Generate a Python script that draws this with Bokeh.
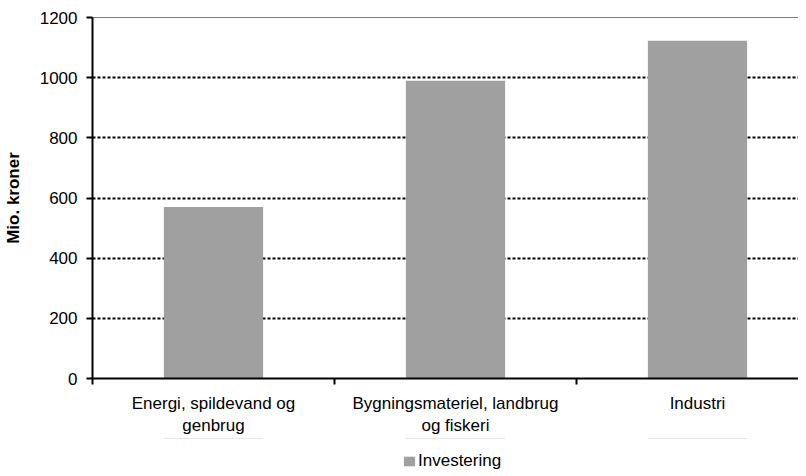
from bokeh.plotting import figure
from bokeh.layouts import column
from bokeh.models import Range1d, FixedTicker, ColumnDataSource, Legend, LegendItem, Span
from bokeh.embed import file_html
from bokeh.resources import INLINE

categories = ["Energi, spildevand og\ngenbrug", "Bygningsmateriel, landbrug\nog fiskeri", "Industri"]
investering = [570, 990, 1123]
series_name = "Investering"
y_ticks = [0, 200, 400, 600, 800, 1000, 1200]

FONT = "Liberation Sans"
BAR = "#A0A0A0"
xs = [i + 0.5 for i in range(len(categories))]
src = ColumnDataSource(dict(x=xs, top=investering))

p = figure(frame_width=706, frame_height=361, output_backend="svg", toolbar_location=None,
           x_range=Range1d(0, 706 / 242), y_range=Range1d(0, 1200),
           min_border_left=92, min_border_right=0, min_border_top=17, min_border_bottom=0)
p.outline_line_color = None
p.background_fill_color = "white"

r = p.vbar(x="x", top="top", width=0.41, source=src, fill_color=BAR, line_color=None)

# y axis
p.yaxis.ticker = FixedTicker(ticks=y_ticks, minor_ticks=[])
p.yaxis.axis_label = "Mio. kroner"
p.yaxis.axis_label_text_font = FONT
p.yaxis.axis_label_text_font_style = "bold"
p.yaxis.axis_label_text_font_size = "17px"
p.yaxis.axis_label_text_color = "black"
p.yaxis.axis_label_standoff = 14
p.yaxis.major_label_text_font = FONT
p.yaxis.major_label_text_font_size = "17px"
p.yaxis.major_label_text_color = "black"
p.yaxis.major_label_standoff = 9
p.yaxis.major_tick_out = 6
p.yaxis.major_tick_in = 0
p.yaxis.major_tick_line_width = 2
p.yaxis.axis_line_width = 2
p.yaxis.minor_tick_line_color = None

# x axis
p.xaxis.ticker = FixedTicker(ticks=xs, minor_ticks=[0, 1, 2])
p.xaxis.major_label_overrides = {x: c for x, c in zip(xs, categories)}
p.xaxis.major_label_text_font = FONT
p.xaxis.major_label_text_font_size = "17px"
p.xaxis.major_label_text_color = "black"
p.xaxis.major_label_text_align = "center"
p.xaxis.major_label_standoff = 9
p.xaxis.major_tick_line_color = None
p.xaxis.minor_tick_out = 6
p.xaxis.minor_tick_in = 0
p.xaxis.minor_tick_line_width = 2
p.xaxis.axis_line_width = 2

# grid
p.xgrid.grid_line_color = None
p.ygrid.ticker = FixedTicker(ticks=y_ticks[1:])
p.ygrid.grid_line_color = "black"
p.ygrid.grid_line_width = 2
p.ygrid.grid_line_dash = "3 2"

p.add_layout(Span(location=1200, dimension="width", line_color="black", line_width=1))

# legend strip below the chart (same series, drawn out of this strip's visible range)
p2 = figure(frame_width=706, frame_height=34, output_backend="svg", toolbar_location=None,
            x_range=Range1d(0, 706 / 242), y_range=Range1d(-2, -1),
            min_border_left=92, min_border_right=0, min_border_top=0, min_border_bottom=0)
p2.axis.visible = False
p2.grid.visible = False
p2.outline_line_color = None
r2 = p2.vbar(x="x", top="top", width=0.41, source=src, fill_color=BAR, line_color=None)
legend = Legend(items=[LegendItem(label=series_name, renderers=[r2])],
                location=(310, 1), orientation="horizontal",
                label_text_font=FONT, label_text_font_size="17px", label_text_color="black",
                glyph_width=14, glyph_height=12, label_standoff=2,
                border_line_color=None, background_fill_alpha=0,
                padding=0, margin=0, label_height=12)
p2.add_layout(legend, "center")

layout = column(p, p2, spacing=0)
open("out.html", "w").write(file_html(layout, INLINE))
